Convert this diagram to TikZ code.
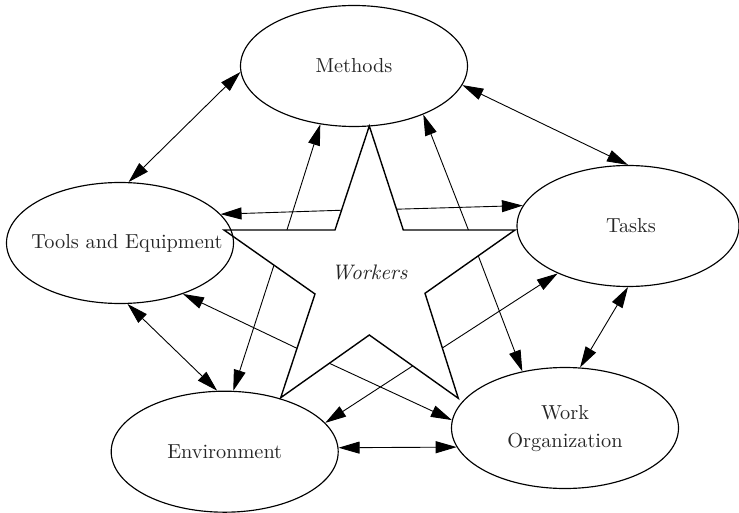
\documentclass[tikz,border=0pt]{standalone}
\usepackage{fontspec}
\setmainfont{lmroman10}[Extension=.otf, UprightFont=*-regular, ItalicFont=*-italic, BoldFont=*-bold]
\usetikzlibrary{shapes.geometric,arrows.meta,calc}
\begin{document}
\begin{tikzpicture}[x=1pt,y=-1pt,
  ell/.style={draw, ellipse, line width=1.15pt, minimum width=227pt, minimum height=121pt, inner sep=0pt, text=black!85, font=\fontsize{20.3}{28}\selectfont},
  >={Triangle[length=21pt,width=12pt]},
  arr/.style={->, line width=0.9pt},
  darr/.style={<->, line width=0.9pt},
  starline/.style={line width=1.4pt, line join=miter}
]
\useasboundingbox (0,0) rectangle (739,513);

% ellipses
\node[ell] (methods) at (354,66) {\makebox[0pt]{Methods}};
\node[ell, minimum width=222pt] (tasks) at (628,226) {\makebox[0pt]{\hspace*{6pt}Tasks}};
\node[ell] (tools) at (120,243) {\makebox[0pt]{\hspace*{14pt}Tools and Equipment}};
\node[ell] (env) at (224.7,451.7) {\makebox[0pt]{Environment}};
\node[ell] (wo) at (565,428) {\makebox[0pt]{\begin{tabular}{@{}c@{}}Work\\Organization\end{tabular}}};

% star
\coordinate (top) at (369.3,126);
\coordinate (itr) at (403.3,230);
\coordinate (rp) at (515,230);
\coordinate (ir) at (425,293.3);
\coordinate (br) at (458.3,398.3);
\coordinate (ib) at (369.3,335);
\coordinate (bl) at (280.7,397.7);
\coordinate (il) at (315,294);
\coordinate (lp) at (224,230);
\coordinate (itl) at (335,230);
\draw[starline] (top) -- (itr) -- (rp) -- (ir) -- (br) -- (ib) -- (bl) -- (il) -- (lp) -- (itl) -- cycle;
\node[font=\fontsize{21}{24}\selectfont\itshape, text=black!85] (workers) at (369.5,272) {Workers};

% arrow start points on the star
\coordinate (s1) at ($(itl)!0.19!(top)$);
\coordinate (s2) at ($(lp)!0.567!(itl)$);
\coordinate (s3) at ($(itr)!0.2!(top)$);
\coordinate (s4) at ($(itr)!0.583!(rp)$);
\coordinate (s5) at ($(rp)!0.408!(ir)$);
\coordinate (s6) at ($(ir)!0.521!(br)$);
\coordinate (s7) at ($(bl)!0.549!(ib)$);
\coordinate (s8) at ($(ib)!0.488!(br)$);
\coordinate (s9) at ($(il)!0.524!(bl)$);
\coordinate (s10) at ($(lp)!0.549!(il)$);

\draw[arr] (s1) -- (tools.16.3);
\draw[arr] (s2) -- (methods.240.3);
\draw[arr] (s3) -- (tasks.169.9);
\draw[arr] (s4) -- (methods.325);
\draw[arr] (s5) -- (wo.127.5);
\draw[arr] (s6) -- (tasks.214.9);
\draw[arr] (s7) -- (wo.176.8);
\draw[arr] (s8) -- (env.16.7);
\draw[arr] (s9) -- (tools.321.3);
\draw[arr] (s10) -- (env.82.1);

% ellipse to ellipse
\draw[darr] (tools.82.2) -- (methods.183);
\draw[darr] (methods.350.4) -- (tasks.90);
\draw[darr] (tasks.270) -- (wo.76.7);
\draw[darr] (env.2.2) -- (wo.190);
\draw[darr] (tools.277.8) -- (env.97.4);
\end{tikzpicture}
\end{document}
